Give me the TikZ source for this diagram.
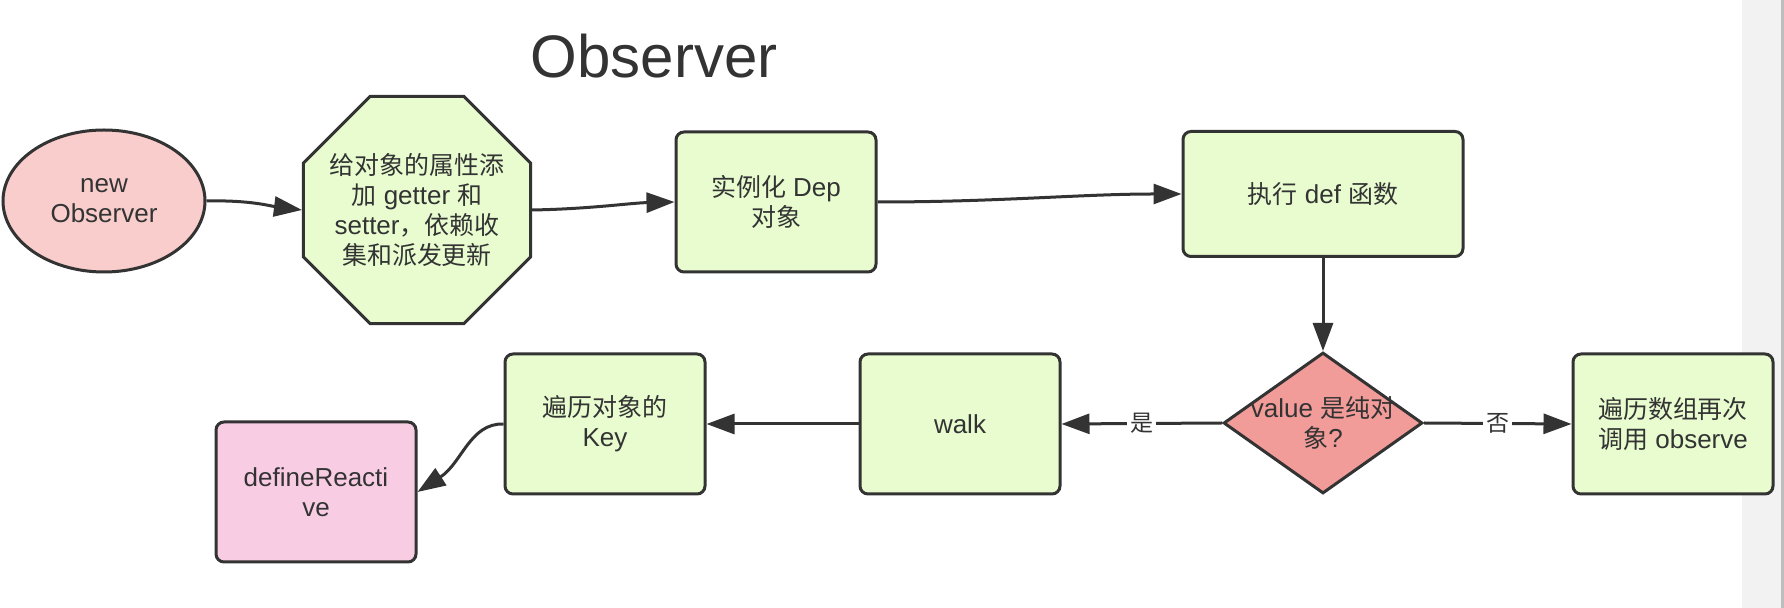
\documentclass[tikz,border=0pt]{standalone}
\usepackage{fontspec}
\setmainfont{Liberation Sans}
\newfontfamily\cjk{Noto Sans CJK SC}[Scale=0.96]
\usetikzlibrary{shapes.geometric,arrows.meta}
\definecolor{inkgray}{HTML}{333333}
\definecolor{boxgreen}{HTML}{E8FCD0}
\definecolor{startpink}{HTML}{F8CDCC}
\definecolor{askred}{HTML}{F19C99}
\definecolor{endpink}{HTML}{F8CDE4}
\definecolor{stripgray}{HTML}{F2F2F2}
\definecolor{stripedge}{HTML}{BDBDBD}

\begin{document}
\begin{tikzpicture}[x=0.5pt, y=0.5pt,
  base/.style={draw=inkgray, line width=1.5pt, text=inkgray, align=center, inner sep=0pt, font=\fontsize{13}{15}\selectfont},
  stepbox/.style={base, rectangle, rounded corners=4pt, fill=boxgreen, minimum width=100pt, minimum height=70pt},
  flow/.style={draw=inkgray, line width=1.5pt, -{Triangle[length=14pt,width=10pt]}},
  lbl/.style={fill=white, text=inkgray, inner sep=1.5pt, font=\cjk\fontsize{12}{14}\selectfont}]
  \useasboundingbox (0,0) rectangle (1784,-608);
  % side strip
  \fill[stripgray] (1742,0) rectangle (1784,-608);
  \fill[stripedge] (1781,0) rectangle (1784,-608);
  % title
  \node[text=inkgray, font=\fontsize{30}{36}\selectfont, anchor=base] (title) at (654,-78) {Observer};
  % top row
  \node[base, ellipse, fill=startpink, minimum width=101pt, minimum height=71pt] (start) at (104,-201) {new\\Observer};
  \node[base, regular polygon, regular polygon sides=8, fill=boxgreen, inner sep=-15pt, minimum size=122.9pt] (attr) at (417,-210) {{\cjk 给对象的属性添}\\{\cjk 加} getter {\cjk 和}\\setter{\cjk ，依赖收}\\{\cjk 集和派发更新}};
  \node[stepbox] (dep) at (776,-202) {{\cjk 实例化} Dep\\{\cjk 对象}};
  \node[stepbox, minimum width=140pt, minimum height=62.5pt] (def) at (1323,-194) {{\cjk 执行} def {\cjk 函数}};
  % bottom row
  \node[base, diamond, fill=askred, minimum width=99.5pt, minimum height=70.5pt, inner xsep=-25pt, inner ysep=-12pt] (plain) at (1323,-423) {value {\cjk 是纯对}\\{\cjk 象}?};
  \node[stepbox] (arr) at (1673,-424) {{\cjk 遍历数组再次}\\{\cjk 调用} observe};
  \node[stepbox] (walk) at (960,-424) {walk};
  \node[stepbox] (keys) at (605,-424) {{\cjk 遍历对象的}\\Key};
  \node[stepbox, fill=endpink] (react) at (316,-492) {defineReacti\\ve};
  % connectors
  \draw[flow] (start.east) .. controls (250,-200) and (270,-206) .. (attr.west);
  \draw[flow] (attr.east) .. controls (590,-209) and (630,-203) .. (dep.west);
  \draw[flow] (dep.east) .. controls (1000,-202) and (1080,-194) .. (def.west);
  \draw[flow] (def.south) -- (plain.north);
  \draw[flow] (plain.west) -- node[lbl] (yes) {是} (walk.east);
  \draw[flow] (plain.east) -- node[lbl] (no) {否} (arr.west);
  \draw[flow] (walk.west) -- (keys.east);
  \draw[flow] (keys.west) .. controls (470,-423) and (462,-463) .. (react.east);
\end{tikzpicture}
\end{document}
